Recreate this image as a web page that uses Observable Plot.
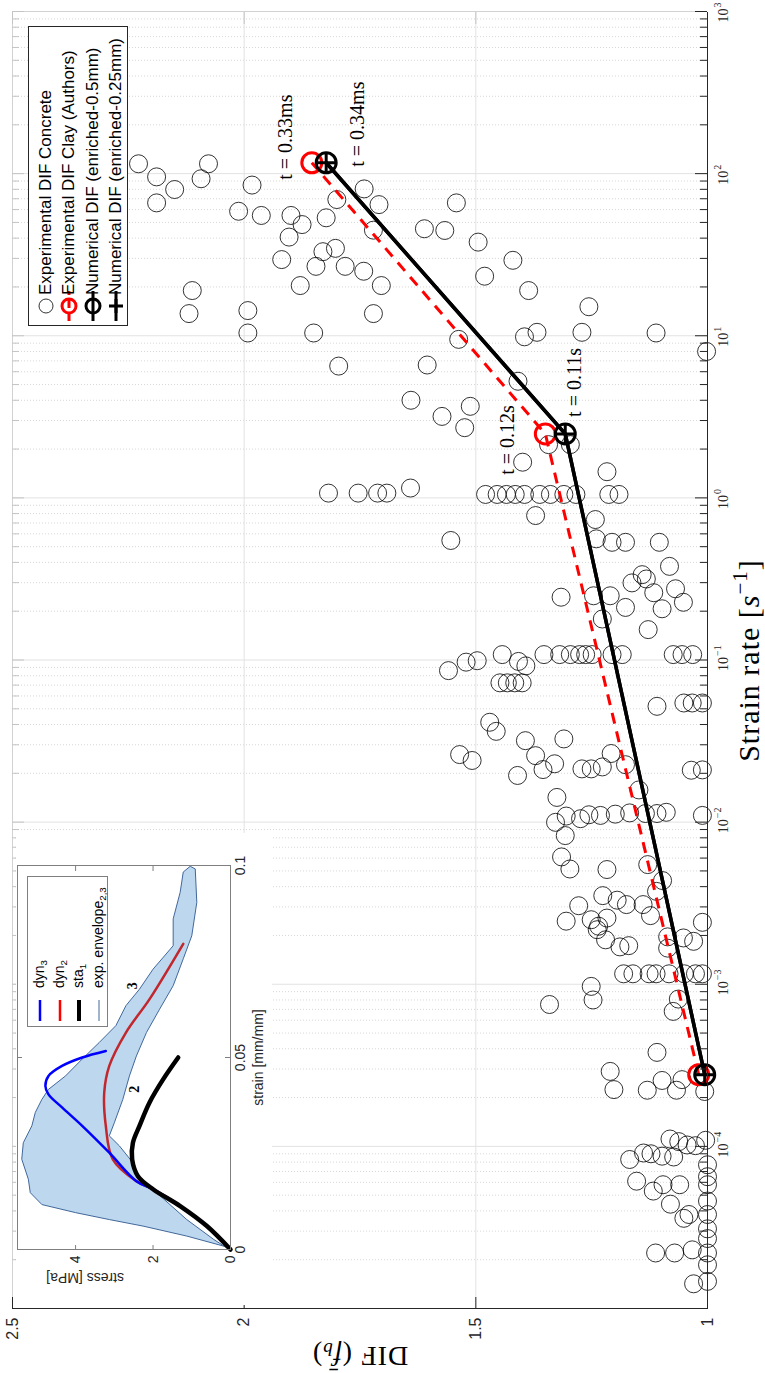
<!DOCTYPE html>
<html><head><meta charset="utf-8">
<script src="https://cdn.jsdelivr.net/npm/d3@7"></script>
<script src="https://cdn.jsdelivr.net/npm/@observablehq/plot@0.6"></script>
<style>
html,body{margin:0;padding:0;background:#fff;}
body{width:765px;height:1373px;overflow:hidden;position:relative;}
#fig{position:absolute;left:0;top:0;width:1373px;height:765px;transform-origin:0 0;transform:translate(0px,1373px) rotate(-90deg);background:#fff;}
#fig svg{position:absolute;}
.lab{position:absolute;white-space:nowrap;line-height:1;}
</style></head><body><div id="fig"></div>
<script>
// ---------------- DATA ----------------
// Experimental DIF Concrete (strain rate [1/s], DIF)
const concreteRate = [
115, 95.5, 79.8, 66, 115, 93, 85, 58.6, 55.2, 55.2,
48.5, 40.6, 29.5, 20.4, 53.4, 69.2, 80.5, 64.4, 44.8, 33,
34.6, 26.8, 26.8, 25, 20.4, 13.7, 19, 13.7, 14.3, 10.4,
10.4, 6.5, 4.0, 1.07, 1.07, 1.07, 1.07, 1.15,
66, 45.7, 44.6, 37.8, 29.2, 23.3, 19, 15.1, 10.5, 9.85,
10.5, 10.4, 8.0, 9.5, 6.6, 5.24, 3.18, 3.67, 2.71, 1.66,
1.45, 2.13, 2.13,
1.05, 1.05, 1.05, 1.05, 1.05, 1.05, 1.05, 1.05, 1.05, 1.05, 1.05,
0.778, 0.735,
0.546, 0.559, 0.532, 0.532, 0.532, 0.378, 0.336, 0.316, 0.299, 0.26,
0.275, 0.227, 0.207, 0.211, 0.249, 0.249, 0.244, 0.179, 0.154,
0.108, 0.108, 0.108, 0.108, 0.108, 0.108, 0.108, 0.108, 0.108, 0.108, 0.108, 0.108,
0.097, 0.099, 0.098, 0.092, 0.086,
0.0723, 0.0723, 0.0723, 0.0723,
0.0518, 0.0543, 0.0543, 0.0543,
0.0413, 0.0363, 0.0261, 0.024, 0.0318, 0.0326, 0.0257, 0.0229, 0.0211, 0.0194,
0.0265, 0.0213, 0.0213, 0.0219, 0.0226, 0.0158, 0.0209, 0.021, 0.0142,
0.00997, 0.0109, 0.0105, 0.0111, 0.011, 0.0112, 0.0114, 0.0113, 0.0113, 0.0115, 0.011,
0.00826, 0.0061, 0.00514, 0.0051, 0.00547, 0.00436, 0.00374, 0.00352, 0.0033, 0.0031, 0.0031, 0.00305, 0.00265, 0.00256, 0.0025, 0.00245, 0.00228, 0.00241,
0.00217, 0.00188, 0.0017, 0.00173, 0.00196, 0.00167, 0.00193, 0.00184,
0.00116, 0.00116, 0.00116, 0.00116, 0.00116, 0.00116, 0.00116, 0.00116,
0.00097, 0.0008, 0.00075, 0.00081, 0.00068, 0.00038, 0.00029, 0.000224, 0.000222, 0.000255, 0.000222, 0.000258, 0.000218, 0.000277,
1.11e-4, 1.07e-4, 1.02e-4, 1.01e-4, 1.09e-4,
8.3e-5, 9.1e-5, 9.0e-5, 8.7e-5, 8.6e-5,
6.1e-5, 5.3e-5, 5.8e-5, 5.8e-5, 4.4e-5, 3.6e-5, 3.8e-5, 2.2e-5, 2.2e-5, 2.3e-5, 1.42e-5,
7.7e-5, 6.5e-5, 5.8e-5, 4.6e-5, 3.8e-5, 3.1e-5, 2.7e-5, 2.2e-5, 1.86e-5, 1.47e-5
];
const concreteDIF = [
2.228, 2.189, 2.150, 2.189, 2.077, 2.093, 1.983, 2.012, 1.963, 1.899,
1.875, 1.903, 1.919, 1.879, 1.823, 1.800, 1.741, 1.709, 1.721, 1.830,
1.803, 1.845, 1.782, 1.742, 1.704, 1.721, 2.112, 2.119, 1.992, 1.992,
1.850, 1.796, 1.640, 1.818, 1.754, 1.712, 1.692, 1.641,
1.542, 1.611, 1.567, 1.495, 1.420, 1.481, 1.386, 1.256, 1.368, 1.395,
1.271, 1.111, 1.002, 1.537, 1.605, 1.409, 1.573, 1.512, 1.524, 1.399,
1.217, 1.343, 1.296,
1.479, 1.454, 1.434, 1.415, 1.395, 1.362, 1.339, 1.310, 1.284, 1.213, 1.191,
1.371, 1.242,
1.554, 1.240, 1.206, 1.177, 1.104, 1.082, 1.141, 1.132, 1.163, 1.116,
1.069, 1.052, 1.098, 1.177, 1.210, 1.246, 1.316, 1.227, 1.128,
1.443, 1.353, 1.319, 1.296, 1.276, 1.263, 1.249, 1.206, 1.184, 1.074, 1.055, 1.032,
1.521, 1.497, 1.408, 1.392, 1.559,
1.448, 1.432, 1.416, 1.400,
1.109, 1.051, 1.033, 1.011,
1.470, 1.456, 1.535, 1.508, 1.393, 1.310, 1.371, 1.330, 1.355, 1.410,
1.208, 1.271, 1.251, 1.227, 1.177, 1.148, 1.035, 1.011, 1.325,
1.328, 1.305, 1.274, 1.256, 1.231, 1.199, 1.168, 1.134, 1.109, 1.089, 1.011,
1.307, 1.315, 1.297, 1.217, 1.129, 1.097, 1.110, 1.226, 1.195, 1.175, 1.139, 1.278, 1.123, 1.217, 1.251, 1.305, 1.235, 1.011,
1.238, 1.220, 1.189, 1.170, 1.086, 1.086, 1.052, 1.030,
1.181, 1.161, 1.126, 1.111, 1.083, 1.050, 1.026, 1.011,
1.251, 1.247, 1.341, 1.063, 1.074, 1.109, 1.210, 1.202, 1.130, 1.098, 1.067, 1.055, 1.006, 1.022,
1.081, 1.062, 1.044, 1.026, 1.004,
1.168, 1.138, 1.122, 1.098, 1.073,
1.153, 1.117, 1.096, 1.060, 1.080, 1.051, 1.040, 1.112, 1.071, 1.033, 1.030,
1.0, 1.0, 1.0, 1.0, 1.0, 1.0, 1.0, 1.0, 1.0, 1.0
];
// Experimental DIF Clay (Authors)
const authorsRate = [2.77e-4, 2.48, 116.7];
const authorsDIF = [1.019, 1.350, 1.854];
const authorsLabel = ["", "t = 0.12s", "t = 0.33ms"];
// Numerical DIF
const numRate = [2.77e-4, 2.48, 116.7];
const num05DIF = [1.006, 1.307, 1.823];
const num025DIF = [1.006, 1.307, 1.823];
const numLabel = ["", "t = 0.11s", "t = 0.34ms"];
// axis ticks
const decadeTicks = [1e-4, 1e-3, 1e-2, 1e-1, 1, 10, 100, 1000];
const decadeExp = ["\u22124", "\u22123", "\u22122", "\u22121", "0", "1", "2", "3"];
const difTicks = [1, 1.5, 2, 2.5];
const difLabels = ["1", "1.5", "2", "2.5"];
const legendLabels = ["Experimental DIF Concrete", "Experimental DIF Clay (Authors)", "Numerical DIF (enriched-0.5mm)", "Numerical DIF (enriched-0.25mm)"];

// Inset: stress-strain curves
const sta1Strain = [0, 0.0061, 0.0113, 0.0157, 0.0191, 0.0235, 0.0278, 0.0322, 0.0383, 0.0443, 0.0500];
const sta1Stress = [0, 0.61, 1.30, 2.00, 2.39, 2.54, 2.52, 2.35, 2.09, 1.74, 1.35];
const dyn3Strain = [0, 0.0061, 0.0113, 0.0157, 0.0178, 0.0252, 0.0322, 0.0370, 0.0404, 0.0426, 0.0452, 0.0478, 0.0500, 0.0517];
const dyn3Stress = [0, 0.61, 1.30, 2.00, 2.43, 3.13, 3.83, 4.35, 4.70, 4.78, 4.70, 4.35, 3.83, 3.22];
const dyn2Strain = [0, 0.0061, 0.0113, 0.0157, 0.0178, 0.0235, 0.0322, 0.0409, 0.0478, 0.0565, 0.0652, 0.0796];
const dyn2Stress = [0, 0.61, 1.30, 2.00, 2.43, 3.04, 3.22, 3.26, 3.13, 2.70, 2.09, 1.22];
const envStrain = [0.0004, 0.0035, 0.0061, 0.0078, 0.0096, 0.0117, 0.0148, 0.0183, 0.0235, 0.0278, 0.0322, 0.0357, 0.0391, 0.0417, 0.0452, 0.0496, 0.0539, 0.0583, 0.0635, 0.0678, 0.0730, 0.0791, 0.0861, 0.0930, 0.0983, 0.0998, 0.0991, 0.0904, 0.0817, 0.0757, 0.0687, 0.0626, 0.0565, 0.0504, 0.0452, 0.0391, 0.0330, 0.0296, 0.0270, 0.0226, 0.0183, 0.0148, 0.0078, 0.0026, 0.0004];
const envStress = [0, 1.13, 2.26, 3.13, 4.00, 4.87, 5.17, 5.22, 5.39, 5.35, 5.13, 5.04, 4.87, 4.70, 4.26, 3.83, 3.39, 2.96, 2.70, 2.35, 2.00, 1.48, 1.48, 1.30, 1.22, 1.04, 0.91, 0.87, 1.00, 1.22, 1.48, 1.83, 2.17, 2.43, 2.61, 2.78, 3.00, 3.13, 2.87, 2.52, 2.35, 1.91, 1.13, 0.43, 0.09];
const curveTag = ["2", "3"];
const curveTagStrain = [0.0417, 0.0687];
const curveTagStress = [2.48, 2.52];
const insetXTicks = [0, 0.05, 0.1];
const insetXLabels = ["0", "0.05", "0.1"];
const insetYTicks = [0, 2, 4];
const insetYLabels = ["0", "2", "4"];
const insetLegend = [["dyn", "3"], ["dyn", "2"], ["sta", "1"], ["exp. envelope", "2,3"]];

// ---------------- BUILD ----------------
const SANS = "'Liberation Sans', Arial, Helvetica, sans-serif";
const SERIF = "'Liberation Serif', 'Times New Roman', serif";
const fig = document.getElementById("fig");

const concrete = concreteRate.map((r, i) => ({rate: r, dif: concreteDIF[i]}));
const authors = authorsRate.map((r, i) => ({rate: r, dif: authorsDIF[i], label: authorsLabel[i]}));
const num05 = numRate.map((r, i) => ({rate: r, dif: num05DIF[i], label: numLabel[i]}));
const num025 = numRate.map((r, i) => ({rate: r, dif: num025DIF[i]}));

const W = 1373, H = 765, ML = 64, MR = 12, MT = 12, MB = 58;
const FW = W - ML - MR, FH = H - MT - MB;
const minorTicks = [];
for (let e = -5; e < 3; e++) for (let m = 2; m < 10; m++) minorTicks.push(m * Math.pow(10, e));

const plusSym = {draw(ctx, size) { const r = Math.sqrt(size / Math.PI); ctx.moveTo(-r, 0); ctx.lineTo(r, 0); ctx.moveTo(0, -r); ctx.lineTo(0, r); }};
const AX = "#262626";
const TL = {fontSize: 20, fontFamily: SERIF, fill: "#000", style: "letter-spacing:1px"};

const main = Plot.plot({
  width: W, height: H, marginLeft: ML, marginRight: MR, marginTop: MT, marginBottom: MB,
  style: {background: "transparent", overflow: "visible"},
  x: {type: "log", domain: [1e-5, 1e3], axis: null},
  y: {domain: [1, 2.5], axis: null},
  marks: [
    Plot.ruleX(minorTicks, {stroke: "#cdcdcd", strokeWidth: 0.8, strokeDasharray: "1,2"}),
    Plot.ruleX(decadeTicks, {stroke: "#e2e2e2"}),
    Plot.ruleY([1.5, 2], {stroke: "#e2e2e2"}),
    Plot.ruleY([2.5], {stroke: "#d2d2d2"}),
    Plot.ruleX([1e3], {stroke: "#d2d2d2"}),
    Plot.ruleX(decadeTicks, {stroke: "#c4c4c4", insetBottom: FH - 12}),
    Plot.ruleX(minorTicks, {stroke: "#c4c4c4", insetBottom: FH - 7}),
    Plot.ruleY(difTicks, {stroke: "#c4c4c4", insetLeft: FW - 12}),
    Plot.dot(concrete, {x: "rate", y: "dif", r: 9, stroke: "#000", strokeWidth: 0.8, fill: "none"}),
    Plot.line(authors, {x: "rate", y: "dif", stroke: "#ff0000", strokeWidth: 3, strokeDasharray: "11,8", strokeLinecap: "butt"}),
    Plot.dot(authors, {x: "rate", y: "dif", r: 10, stroke: "#ff0000", strokeWidth: 3, fill: "none"}),
    Plot.line(num05, {x: "rate", y: "dif", stroke: "#000", strokeWidth: 3.5}),
    Plot.dot(num05, {x: "rate", y: "dif", r: 10, stroke: "#000", strokeWidth: 3, fill: "none"}),
    Plot.line(num025, {x: "rate", y: "dif", stroke: "#000", strokeWidth: 3.5}),
    Plot.dot(num025, {x: "rate", y: "dif", r: 9, symbol: plusSym, stroke: "#000", strokeWidth: 3, fill: "none"}),
    Plot.text([authors[2]], {x: "rate", y: "dif", text: "label", dx: -17, dy: -26, textAnchor: "start", ...TL}),
    Plot.text([authors[1]], {x: "rate", y: "dif", text: "label", dx: -6, dy: -38, textAnchor: "middle", ...TL}),
    Plot.text([num05[2]], {x: "rate", y: "dif", text: "label", dx: -4, dy: 31, textAnchor: "start", ...TL}),
    Plot.text([num05[1]], {x: "rate", y: "dif", text: "label", dx: 17, dy: 9, textAnchor: "start", ...TL}),
    // axes
    Plot.ruleY([1], {stroke: AX}),
    Plot.ruleX([1e-5], {stroke: AX}),
    Plot.ruleX(decadeTicks, {stroke: AX, insetTop: FH - 12}),
    Plot.ruleX(minorTicks, {stroke: AX, insetTop: FH - 7}),
    Plot.ruleY(difTicks, {stroke: AX, insetRight: FW - 12}),
    Plot.text(decadeTicks, {x: d => d, frameAnchor: "bottom", text: () => "10", dx: -4, dy: 20, fontSize: 14, fontFamily: SERIF, fill: AX}),
    Plot.text(decadeTicks, {x: d => d, frameAnchor: "bottom", text: (d, i) => decadeExp[i], dx: 4, dy: 13, textAnchor: "start", fontSize: 10, fontFamily: SERIF, fill: AX}),
    Plot.text(difTicks, {y: d => d, frameAnchor: "left", text: (d, i) => difLabels[i], dx: -9, textAnchor: "end", fontSize: 16, fontFamily: SANS, fill: AX})
  ]
});
main.style.left = "0px"; main.style.top = "0px";
fig.appendChild(main);

// axis labels
const xl = document.createElement("div");
xl.className = "lab";
xl.style.cssText += `left:${ML + FW / 2}px;top:747px;transform:translate(-50%,-50%);font:30px ${SERIF};letter-spacing:1px;color:#000;`;
xl.innerHTML = "Strain rate [<i>s</i><sup style='font-size:70%;vertical-align:0.55em'>\u22121</sup>]";
fig.appendChild(xl);
const yl = document.createElement("div");
yl.className = "lab";
yl.style.cssText += `left:18px;top:${MT + FH / 2}px;transform:translate(-50%,-50%) rotate(-90deg);font:28px ${SERIF};letter-spacing:1px;color:#000;`;
yl.innerHTML = "DIF (<i>f\u0304</i><sub style='font-size:70%;vertical-align:-0.25em'><i>b</i></sub>)";
fig.appendChild(yl);

// main legend
const leg = document.createElement("div");
leg.style.cssText = `position:absolute;left:1047px;top:28px;width:300px;height:100px;box-sizing:border-box;border:1px solid ${AX};background:#fff;font:17px ${SANS};color:#000;`;
const swatch = [
  `<circle cx="17" cy="11" r="7" fill="none" stroke="#000" stroke-width="0.8"/>`,
  `<line x1="2" y1="11" x2="32" y2="11" stroke="#f00" stroke-width="3" stroke-dasharray="8,5"/><circle cx="17" cy="11" r="7" fill="none" stroke="#f00" stroke-width="3"/>`,
  `<line x1="2" y1="11" x2="32" y2="11" stroke="#000" stroke-width="3"/><circle cx="17" cy="11" r="7" fill="none" stroke="#000" stroke-width="3"/>`,
  `<line x1="2" y1="11" x2="32" y2="11" stroke="#000" stroke-width="3"/><line x1="10" y1="11" x2="24" y2="11" stroke="#000" stroke-width="3"/><line x1="17" y1="4" x2="17" y2="18" stroke="#000" stroke-width="3"/>`
];
legendLabels.forEach((t, i) => {
  const row = document.createElement("div");
  row.style.cssText = `position:absolute;left:0;top:${6 + i * 23.3}px;height:22px;white-space:nowrap;`;
  row.innerHTML = `<svg width="34" height="22" style="position:absolute;left:2px;top:0">${swatch[i]}</svg><span style="position:absolute;left:30px;top:2px;line-height:18px">${t}</span>`;
  leg.appendChild(row);
});
fig.appendChild(leg);

// ---------------- INSET ----------------
const IW = 472, IH = 256, IML = 55, IMR = 33, IMT = 1, IMB = 42;
const IFW = IW - IML - IMR, IFH = IH - IMT - IMB;
const env = envStrain.map((s, i) => ({s, p: envStress[i]}));
const sta1 = sta1Strain.map((s, i) => ({s, p: sta1Stress[i]}));
const dyn3 = dyn3Strain.map((s, i) => ({s, p: dyn3Stress[i]}));
const dyn2 = dyn2Strain.map((s, i) => ({s, p: dyn2Stress[i]}));
const tags = curveTag.map((t, i) => ({t, s: curveTagStrain[i], p: curveTagStress[i]}));
const IAX = "#7f7f7f";
const inset = Plot.plot({
  width: IW, height: IH, marginLeft: IML, marginRight: IMR, marginTop: IMT, marginBottom: IMB,
  style: {background: "#fff", overflow: "visible"},
  x: {domain: [0, 0.1], axis: null},
  y: {domain: [0, 5.5], axis: null},
  marks: [
    Plot.line(env, {x: "s", y: "p", fill: "#bdd7ee", stroke: "#41689b", strokeWidth: 1, curve: "linear-closed"}),
    Plot.line(dyn2, {x: "s", y: "p", stroke: "#c1272d", strokeWidth: 2.5, curve: "catmull-rom"}),
    Plot.line(dyn3, {x: "s", y: "p", stroke: "#0000ff", strokeWidth: 2.5, curve: "catmull-rom"}),
    Plot.line(sta1, {x: "s", y: "p", stroke: "#000", strokeWidth: 4.5, curve: "catmull-rom"}),
    Plot.text(tags, {x: "s", y: "p", text: "t", fontSize: 14, fontWeight: "bold", fontFamily: SERIF, fill: "#000"}),
    Plot.frame({stroke: IAX}),
    Plot.ruleX(insetXTicks, {stroke: IAX, insetTop: IFH - 5}),
    Plot.ruleX(insetXTicks, {stroke: IAX, insetBottom: IFH - 5}),
    Plot.ruleY(insetYTicks, {stroke: IAX, insetRight: IFW - 5}),
    Plot.ruleY(insetYTicks, {stroke: IAX, insetLeft: IFW - 5}),
    Plot.text(insetXTicks, {x: d => d, frameAnchor: "bottom", text: (d, i) => insetXLabels[i], dy: 14, fontSize: 14, fontFamily: SANS, fill: "#262626"}),
    Plot.text(insetYTicks, {y: d => d, frameAnchor: "left", text: (d, i) => insetYLabels[i], dx: -6, textAnchor: "end", fontSize: 14, fontFamily: SANS, fill: "#262626"}),
    Plot.text(["strain [mm/mm]"], {frameAnchor: "bottom", dy: 32, text: d => d, fontSize: 14, fontFamily: SANS, fill: "#262626"}),
    Plot.text(["stress [MPa]"], {frameAnchor: "left", dx: -28, rotate: -90, text: d => d, fontSize: 14, fontFamily: SANS, fill: "#262626"})
  ]
});
inset.style.left = "68px"; inset.style.top = "16px";
fig.appendChild(inset);

// inset legend
const ileg = document.createElement("div");
ileg.style.cssText = `position:absolute;left:346px;top:27px;width:151px;height:81px;box-sizing:border-box;border:1px solid ${IAX};background:#fff;font:14px ${SANS};color:#000;`;
const icol = ["#0000ff", "#ff0000", "#000", "#41689b"];
const iw = [2.5, 2.5, 4, 1];
insetLegend.forEach(([a, b], i) => {
  const row = document.createElement("div");
  row.style.cssText = `position:absolute;left:0;top:${2 + i * 19.5}px;height:19px;white-space:nowrap;`;
  row.innerHTML = `<svg width="30" height="19" style="position:absolute;left:2px;top:0"><line x1="3" y1="10" x2="24" y2="10" stroke="${icol[i]}" stroke-width="${iw[i]}"/></svg><span style="position:absolute;left:38px;top:1px;line-height:16px">${a}<sub style="font-size:70%;vertical-align:-0.3em">${b}</sub></span>`;
  ileg.appendChild(row);
});
fig.appendChild(ileg);
</script></body></html>
